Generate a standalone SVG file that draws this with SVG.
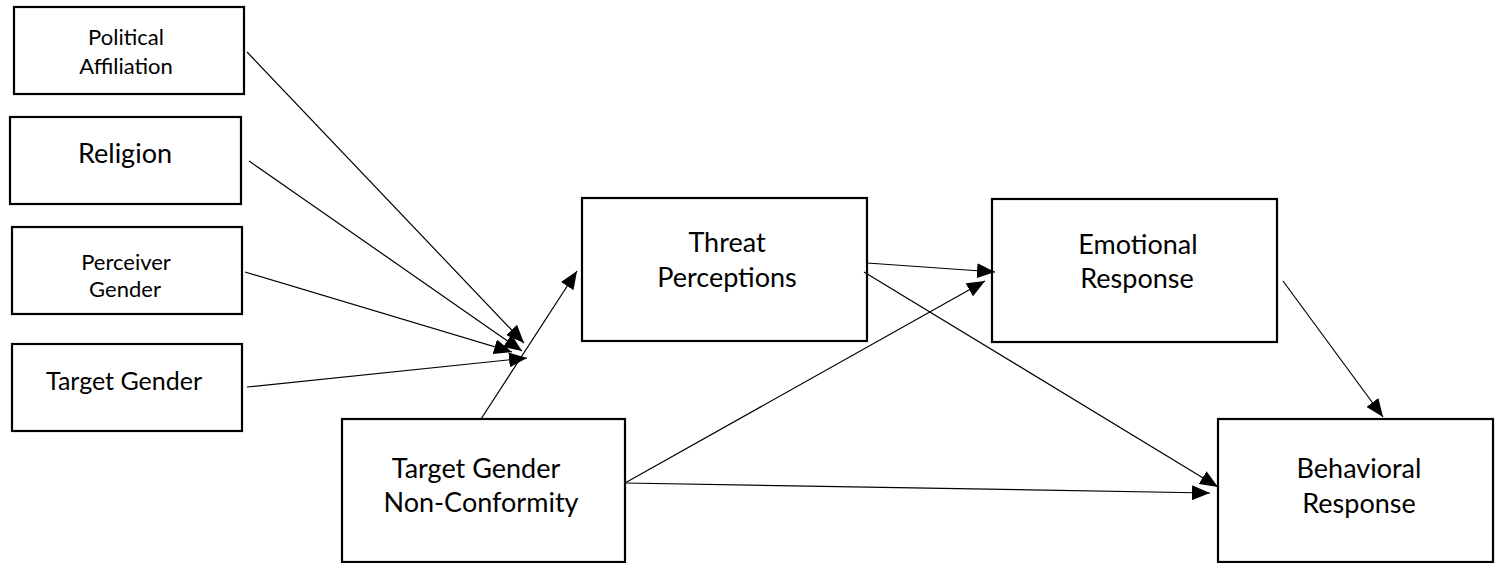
<svg xmlns="http://www.w3.org/2000/svg" width="1495" height="563" viewBox="0 0 1495 563">
<style>
.box{fill:#fff;stroke:#000;stroke-width:2.2}
.t{font-family:Lato,"Liberation Sans",sans-serif;fill:#000;text-anchor:middle}
.s{font-size:22px}
.m{font-size:27px}
.l{font-size:27px}
.c line{stroke:#000;stroke-width:1.2;fill:none;marker-end:url(#ah)}
</style>
<defs>
<marker id="ah" markerUnits="userSpaceOnUse" markerWidth="18" markerHeight="15" refX="18" refY="7.5" orient="auto">
<path d="M0,0 L18,7.5 L0,15 z" fill="#000"/>
</marker>
</defs>
<g id="political"><rect class="box" x="14" y="7" width="230" height="87"/><text class="t s" x="126" y="45">Political</text><text class="t s" x="126" y="74">Affiliation</text></g>
<g id="religion"><rect class="box" x="10" y="117" width="231" height="87"/><text class="t l" x="125" y="163">Religion</text></g>
<g id="perceiver"><rect class="box" x="12" y="227" width="230" height="87"/><text class="t s" x="126" y="270">Perceiver</text><text class="t s" x="125" y="297">Gender</text></g>
<g id="target"><rect class="box" x="12" y="344" width="230" height="87"/><text class="t" style="font-size:25px" x="124" y="390">Target Gender</text></g>
<g id="threat"><rect class="box" x="582" y="198" width="285" height="143"/><text class="t m" x="727" y="252">Threat</text><text class="t m" x="727" y="287">Perceptions</text></g>
<g id="emotional"><rect class="box" x="992" y="199" width="285" height="143"/><text class="t m" x="1138" y="254">Emotional</text><text class="t m" x="1137" y="288">Response</text></g>
<g id="tgnc"><rect class="box" x="342" y="419" width="283" height="143"/><text class="t m" x="476" y="478">Target Gender</text><text class="t m" x="481" y="512">Non-Conformity</text></g>
<g id="behavioral"><rect class="box" x="1218" y="419" width="275" height="143"/><text class="t m" x="1359" y="478">Behavioral</text><text class="t m" x="1359" y="513">Response</text></g>
<g id="connectors" class="c">
<line x1="247" y1="52" x2="524" y2="343"/>
<line x1="249" y1="161" x2="522" y2="351"/>
<line x1="245" y1="272" x2="512" y2="352"/>
<line x1="247" y1="387" x2="527" y2="358"/>
<line x1="481" y1="419" x2="577" y2="271"/>
<line x1="867" y1="263" x2="995" y2="272"/>
<line x1="864" y1="272" x2="1218" y2="487"/>
<line x1="625" y1="483" x2="985" y2="281"/>
<line x1="625" y1="483" x2="1210" y2="493"/>
<line x1="1283" y1="281" x2="1383" y2="417"/>
</g>
</svg>
